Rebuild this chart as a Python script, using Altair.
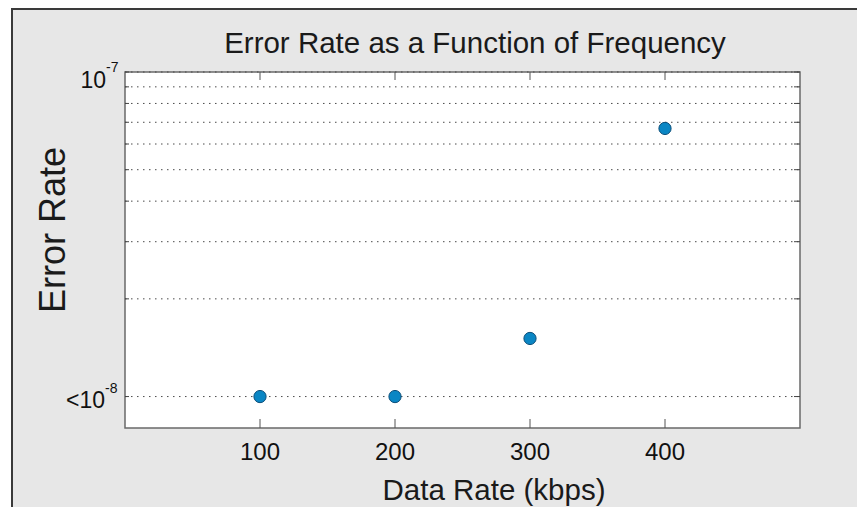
import altair as alt
import pandas as pd

# ---- data ----
rates = [100, 200, 300, 400]                      # Data Rate (kbps)
error_rates = [1.0e-8, 1.0e-8, 1.51e-8, 6.7e-8]   # Error Rate
grid_values = [1e-8, 2e-8, 3e-8, 4e-8, 5e-8, 6e-8, 7e-8, 8e-8, 9e-8, 1e-7]
x_tick_values = [100, 200, 300, 400]
x_tick_labels = ["100", "200", "300", "400"]
y_label_values = [1e-7, 1e-8]
y_label_bases = ["10", "<10"]
y_label_exponents = ["-7", "-8"]

W, H = 675, 356
SANS = "Liberation Sans, Arial, Helvetica, sans-serif"

pts = pd.DataFrame({"rate": rates, "err": error_rates})
grid = pd.DataFrame({"v": grid_values})
xt = pd.DataFrame({"rate": x_tick_values, "label": x_tick_labels})
yl = pd.DataFrame({"v": y_label_values, "base": y_label_bases, "exp": y_label_exponents})
one = pd.DataFrame({"a": [0]})

xs = alt.Scale(domain=[0, 500], nice=False, zero=False)
ys = alt.Scale(type="log", domain=[8e-9, 1e-7], nice=False)

bg = alt.Chart(one).mark_rect(fill="#e7e7e7", stroke="#3a3a3a", strokeWidth=2).encode(
    x=alt.value(-113), x2=alt.value(W + 200), y=alt.value(-63), y2=alt.value(H + 200)
)
plot_bg = alt.Chart(one).mark_rect(fill="white", stroke="#6a6a6a", strokeWidth=1.5).encode(
    x=alt.value(0), x2=alt.value(W), y=alt.value(0), y2=alt.value(H)
)

gridlines = alt.Chart(grid).mark_rule(color="#4a4a4a", strokeWidth=1, strokeDash=[1.5, 4.5]).encode(
    y=alt.Y("v:Q", scale=ys, axis=None), x=alt.value(0), x2=alt.value(W)
)
yticks_l = alt.Chart(grid).mark_rule(color="#444", strokeWidth=1).encode(
    y=alt.Y("v:Q", scale=ys, axis=None), x=alt.value(0), x2=alt.value(4)
)
yticks_r = alt.Chart(grid).mark_rule(color="#444", strokeWidth=1).encode(
    y=alt.Y("v:Q", scale=ys, axis=None), x=alt.value(W - 6), x2=alt.value(W)
)
xticks_b = alt.Chart(xt).mark_rule(color="#555", strokeWidth=1).encode(
    x=alt.X("rate:Q", scale=xs, axis=None), y=alt.value(H), y2=alt.value(H - 9)
)
xticks_t = alt.Chart(xt).mark_rule(color="#555", strokeWidth=1).encode(
    x=alt.X("rate:Q", scale=xs, axis=None), y=alt.value(0), y2=alt.value(8)
)

points = alt.Chart(pts).mark_circle(size=150, opacity=1, fill="#0a86c4", stroke="#0d4f7a", strokeWidth=1).encode(
    x=alt.X("rate:Q", scale=xs, axis=None),
    y=alt.Y("err:Q", scale=ys, axis=None),
)

xlabels = alt.Chart(xt).mark_text(font=SANS, fontSize=24, align="center", baseline="alphabetic", color="#111").encode(
    x=alt.X("rate:Q", scale=xs, axis=None), y=alt.value(H + 32), text="label:N"
)

top_lab = yl[yl["v"] == 1e-7]
bot_lab = yl[yl["v"] == 1e-8]
yl_top_base = alt.Chart(top_lab).mark_text(font=SANS, fontSize=23, align="right", baseline="alphabetic", dy=16, color="#111").encode(
    y=alt.Y("v:Q", scale=ys, axis=None), x=alt.value(-19), text="base:N"
)
yl_top_exp = alt.Chart(top_lab).mark_text(font=SANS, fontSize=14, align="left", baseline="alphabetic", dy=0, color="#111").encode(
    y=alt.Y("v:Q", scale=ys, axis=None), x=alt.value(-19), text="exp:N"
)
yl_bot_base = alt.Chart(bot_lab).mark_text(font=SANS, fontSize=23, align="right", baseline="alphabetic", dy=11, color="#111").encode(
    y=alt.Y("v:Q", scale=ys, axis=None), x=alt.value(-20), text="base:N"
)
yl_bot_exp = alt.Chart(bot_lab).mark_text(font=SANS, fontSize=14, align="left", baseline="alphabetic", dy=-4, color="#111").encode(
    y=alt.Y("v:Q", scale=ys, axis=None), x=alt.value(-20), text="exp:N"
)

title = alt.Chart(one).mark_text(font=SANS, fontSize=29.5, align="center", baseline="alphabetic", color="#1a1a1a",
                                 text="Error Rate as a Function of Frequency").encode(
    x=alt.value(350), y=alt.value(-19)
)
xtitle = alt.Chart(one).mark_text(font=SANS, fontSize=29.5, align="center", baseline="alphabetic", color="#1a1a1a",
                                  text="Data Rate (kbps)").encode(
    x=alt.value(369), y=alt.value(H + 72)
)
ytitle = alt.Chart(one).mark_text(font=SANS, fontSize=36, align="center", baseline="alphabetic", angle=270, color="#1a1a1a",
                                  text="Error Rate").encode(
    x=alt.value(-60), y=alt.value(158)
)

chart = alt.layer(
    bg, plot_bg, gridlines, yticks_l, yticks_r, xticks_b, xticks_t, points,
    xlabels, yl_top_base, yl_top_exp, yl_bot_base, yl_bot_exp, title, xtitle, ytitle
).properties(
    width=W, height=H,
    autosize=alt.AutoSizeParams(type="none"),
    padding={"left": 117, "top": 64, "right": 57, "bottom": 79},
    background="white",
).configure_view(stroke=None)

chart.save("out.html", embed_options={"renderer": "svg", "actions": False})
